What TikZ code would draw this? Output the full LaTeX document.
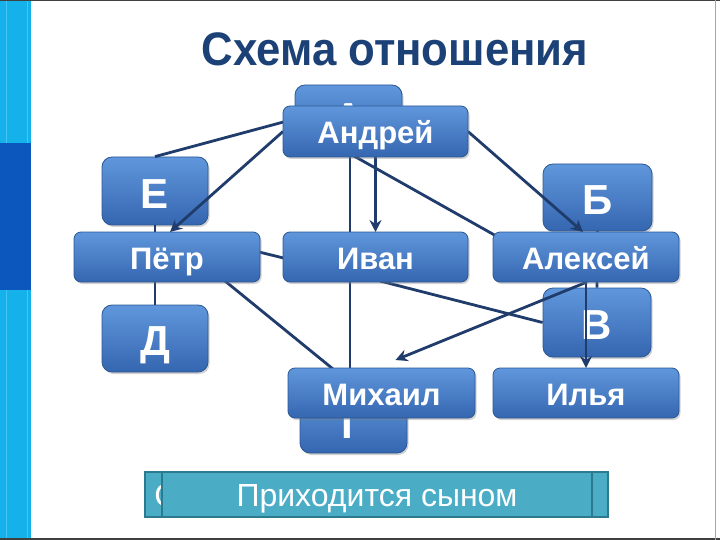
\documentclass[tikz,border=0pt]{standalone}
\usepackage{fontspec}
\setmainfont{Liberation Sans}
\newfontfamily\titlefont{Liberation Sans}[BoldFeatures={FakeStretch=0.93}]
\usetikzlibrary{shadows,arrows.meta,calc}
\definecolor{boxtop}{HTML}{6097DC}
\definecolor{boxbot}{HTML}{3566B0}
\definecolor{boxedge}{HTML}{2B5894}
\definecolor{linec}{HTML}{1F3C6C}
\definecolor{titleblue}{HTML}{1B4177}
\definecolor{barlight}{HTML}{14B1EA}
\definecolor{barstripe}{HTML}{45C6F2}
\definecolor{bardark}{HTML}{0B57BD}
\definecolor{tealfill}{HTML}{4BACC6}
\definecolor{tealedge}{HTML}{2C7A8E}
\begin{document}
\begin{tikzpicture}[x=1pt,y=-1pt,
  lbox/.style={draw=boxedge, line width=0.8pt, rounded corners=10pt,
    top color=boxtop, bottom color=boxbot, text=white, inner sep=0pt,
    text height=34pt, text depth=0pt,
    font=\fontsize{42}{42}\selectfont\bfseries,
    drop shadow={shadow xshift=1.5pt, shadow yshift=-2pt, opacity=0.35}},
  nbox/.style={lbox, rounded corners=7pt, text height=24pt, text depth=0pt,
    font=\fontsize{31}{31}\selectfont\bfseries},
  tbox/.style={draw=tealedge, line width=1.2pt, fill=tealfill, text=white,
    inner sep=0pt, text height=23pt, text depth=0pt, font=\fontsize{32}{32}\selectfont},
  conn/.style={draw=linec, line width=2.8pt},
  arr/.style={conn, -{Stealth[length=12pt,width=12pt,inset=4pt]}},
]
\useasboundingbox (0,0) rectangle (720,540);
\fill[white] (0,0) rectangle (720,540);
% left bar
\fill[barlight] (0,0) rectangle (31,540);
\fill[bardark] (0,143) rectangle (31,290);
\draw[barstripe, line width=1pt] (6,0) -- (6,143) (6,290) -- (6,540);
\draw[barstripe, line width=1pt] (27,0) -- (27,143) (27,290) -- (27,540);
% frame
\fill[black!75] (0,0) rectangle (720,1.5);
\fill[black!75] (0,537.5) rectangle (720,540);
\draw[black!35, line width=1pt] (715,0) -- (715,540);
% title
\node[anchor=base, text=titleblue, font=\titlefont\bfseries\fontsize{47}{50}\selectfont]
  (title) at (395,66) {Схема отношения};
% letter boxes
\node[lbox, minimum width=107pt, minimum height=62pt] (A) at (348.5,116) {А};
\node[lbox, minimum width=106pt, minimum height=68pt] (E) at (155,191) {Е};
\node[lbox, minimum width=109pt, minimum height=67pt] (B) at (597.5,197.5) {Б};
\node[lbox, minimum width=108pt, minimum height=69pt] (V) at (597,322.5) {В};
\node[lbox, minimum width=106pt, minimum height=67pt] (D) at (155,338.5) {Д};
\node[lbox, minimum width=107pt, minimum height=64pt] (G) at (353.5,421) {Г};
% name positions
\path (375.5,131.5) coordinate (andreyc) (167,257) coordinate (petrc)
      (375.5,257) coordinate (ivanc) (586,257) coordinate (alexeyc)
      (381.5,393) coordinate (mikhailc) (586,393) coordinate (ilyac);
% connectors
\draw[conn] (E.south) -- (D.north);
\draw[conn] (B.south) -- (V.north);
\draw[conn] ($(A.south)+(1.5,0)$) -- ($(G.north)+(-3.5,0)$);
\draw[conn] ($(A.west)+(0,3)$) -- (E.north);
\draw[conn] ($(andreyc)+(-26,22)$) -- ($(alexeyc)+(-88,-20)$);
\draw[arr] ($(andreyc)+(-92.5,0)$) -- ($(petrc)+(3,-25)$);
\draw[arr] ($(andreyc)+(0,25.5)$) -- ($(ivanc)+(0,-25)$);
\draw[arr] ($(andreyc)+(92.5,0)$) -- ($(alexeyc)+(-3,-25)$);
\draw[conn] ($(petrc)+(92,-5)$) -- ($(ivanc)+(-92,1)$);
\draw[conn] ($(petrc)+(58,24)$) -- ($(mikhailc)+(-48.5,-24)$);
\draw[conn] ($(ivanc)+(4.5,24)$) -- (V.west);
\coordinate (mend) at ($(mikhailc)+(14,-33)$);
\draw[arr] ($(alexeyc)+(1,25)$) -- (mend);
\draw[arr] ($(alexeyc)+(0,25)$) -- ($(ilyac)+(0,-25)$);
% name boxes
\node[nbox, minimum width=185pt, minimum height=51pt] (andrey) at (andreyc) {Андрей};
\node[nbox, minimum width=186pt, minimum height=50pt] (petr) at (petrc) {Пётр};
\node[nbox, minimum width=185pt, minimum height=50pt] (ivan) at (ivanc) {Иван};
\node[nbox, minimum width=186pt, minimum height=50pt] (alexey) at (alexeyc) {Алексей};
\node[nbox, minimum width=187pt, minimum height=50pt] (mikhail) at (mikhailc) {Михаил};
\node[nbox, minimum width=186pt, minimum height=50pt] (ilya) at (ilyac) {Илья};
% bottom relation boxes
\node[tbox, minimum width=463pt, minimum height=45pt] (relback) at (376.5,494.5) {};
\node[text=white, inner sep=0pt, text height=23pt, text depth=0pt,
  font=\fontsize{32}{32}\selectfont] (relc) at (166,494.5) {С};
\node[tbox, minimum width=430pt, minimum height=45pt] (relfront) at (377,494.5) {Приходится сыном};
\end{tikzpicture}
\end{document}
